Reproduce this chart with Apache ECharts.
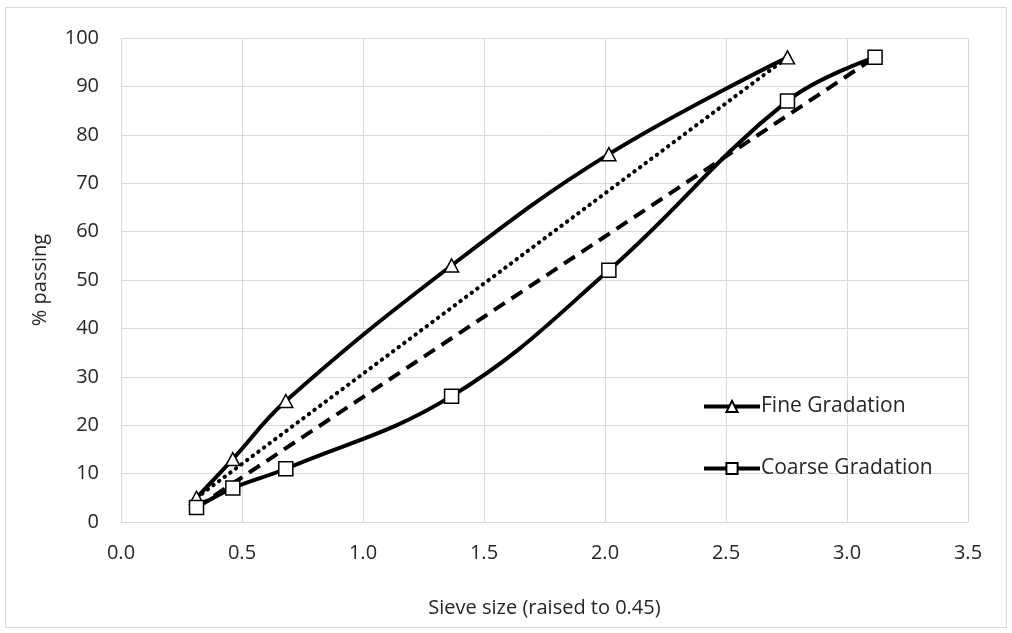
<!DOCTYPE html>
<html>
<head>
<meta charset="utf-8">
<script src="https://cdn.jsdelivr.net/npm/echarts@6/dist/echarts.min.js"></script>
<style>
html,body{margin:0;padding:0;background:#fff;}
#container{width:1012px;height:633px;}
</style>
</head>
<body>
<div id="container"></div>
<script>
// sieve size raised to 0.45
var fineX = [0.312, 0.462, 0.681, 1.366, 2.016, 2.754];
var fineY = [5, 13, 25, 53, 76, 96];
var coarseX = [0.312, 0.462, 0.681, 1.366, 2.016, 2.754, 3.116];
var coarseY = [3, 7, 11, 26, 52, 87, 96];
// maximum density lines
var fineMdlX = [0.312, 2.754];
var fineMdlY = [5, 96];
var coarseMdlX = [0.312, 3.116];
var coarseMdlY = [3, 96];

var pairs = function(xs, ys){
	var out = [];
	for (var i = 0; i < xs.length; i++) {
		out.push([xs[i], ys[i]]);
	}
	return out;
};

var dom = document.getElementById("container");
var myChart = echarts.init(dom);
var font = "'Open Sans', 'Noto Sans', sans-serif";
var txt = '#262626';
var option = {
	animation: false,
	textStyle: { fontFamily: font },
	graphic: [{
		type: 'rect',
		shape: { x: 5.5, y: 7.5, width: 1001, height: 620 },
		style: { fill: 'none', stroke: '#d9d9d9', lineWidth: 1 },
		silent: true
	}],
	grid: { left: 121, right: 44, top: 38, bottom: 111 },
	legend: {
		orient: 'vertical',
		left: 697,
		top: 391,
		itemWidth: 56,
		itemHeight: 14,
		itemGap: 41,
		data: ['Fine Gradation', 'Coarse Gradation'],
		lineStyle: { width: 4 },
		textStyle: { fontSize: 21, color: txt, fontFamily: font, padding: [0, 0, 0, -4] }
	},
	xAxis: {
		type: 'value',
		min: 0,
		max: 3.5,
		interval: 0.5,
		name: 'Sieve size (raised to 0.45)',
		nameLocation: 'middle',
		nameGap: 76,
		nameTextStyle: { fontSize: 20, color: txt, fontFamily: font },
		axisLine: { show: true, lineStyle: { color: '#d9d9d9', width: 1 } },
		axisTick: { show: false },
		axisLabel: {
			fontSize: 20, color: txt, margin: 21, fontFamily: font,
			formatter: function(v){ return v.toFixed(1); }
		},
		splitLine: { show: true, lineStyle: { color: '#d9d9d9', width: 1 } }
	},
	yAxis: {
		type: 'value',
		min: 0,
		max: 100,
		interval: 10,
		name: '% passing',
		nameLocation: 'middle',
		nameGap: 71,
		nameTextStyle: { fontSize: 20, color: txt, fontFamily: font },
		axisLine: { show: false },
		axisTick: { show: false },
		axisLabel: { fontSize: 20, color: txt, margin: 22, fontFamily: font },
		splitLine: { show: true, lineStyle: { color: '#d9d9d9', width: 1 } }
	},
	series: [
		{
			name: 'Fine MDL',
			type: 'line',
			data: pairs(fineMdlX, fineMdlY),
			showSymbol: false,
			lineStyle: { color: '#000', width: 4, type: [0.5, 6.5], cap: 'round' },
			z: 2
		},
		{
			name: 'Coarse MDL',
			type: 'line',
			data: pairs(coarseMdlX, coarseMdlY),
			showSymbol: false,
			lineStyle: { color: '#000', width: 4, type: [13, 8] },
			z: 2
		},
		{
			name: 'Fine Gradation',
			type: 'line',
			data: pairs(fineX, fineY),
			smooth: 0.4,
			symbol: 'triangle',
			symbolSize: [14, 13],
			itemStyle: { color: '#fff', borderColor: '#000', borderWidth: 1.5 },
			lineStyle: { color: '#000', width: 4 },
			z: 3
		},
		{
			name: 'Coarse Gradation',
			type: 'line',
			data: pairs(coarseX, coarseY),
			smooth: 0.4,
			symbol: 'rect',
			symbolSize: 14,
			itemStyle: { color: '#fff', borderColor: '#000', borderWidth: 1.5 },
			lineStyle: { color: '#000', width: 4 },
			z: 3
		}
	]
};
myChart.setOption(option, true);
</script>
</body>
</html>
